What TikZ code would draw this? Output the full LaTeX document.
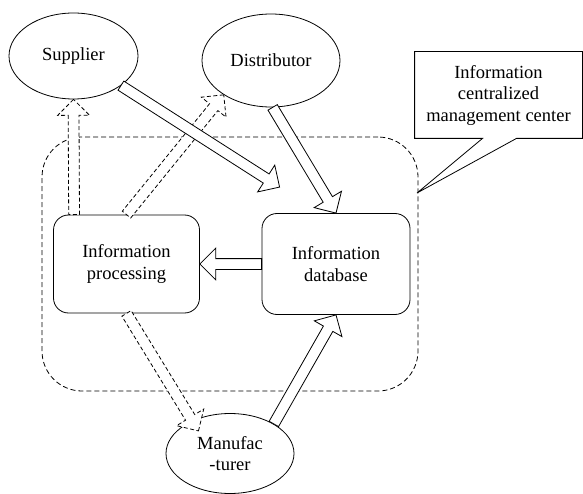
\documentclass[tikz,border=0pt]{standalone}
\usepackage{fontspec}
\setmainfont{Liberation Serif}
\usetikzlibrary{shapes.geometric,shapes.arrows,calc}

% hollow block arrow laid from one point to another
\newcommand{\flow}[3][]{\path let \p1=(#2), \p2=(#3), \n1={atan2(\y2-\y1,\x2-\x1)}, \n2={veclen(\x2-\x1,\y2-\y1)} in node[flow,#1,anchor=tail,rotate=\n1,minimum height=\n2] at (\p1) {};}

\begin{document}
\begin{tikzpicture}[x=1pt,y=-1pt,line width=0.8pt,font=\fontsize{18.5}{21.5}\selectfont,ent/.style={ellipse,draw,inner sep=0pt,align=center},unit/.style={rectangle,draw,rounded corners=15pt,align=center,minimum width=146pt},zone/.style={rectangle,draw,rounded corners=40pt,dash pattern=on 5pt off 3pt},flow/.style={single arrow,draw,fill=white,inner sep=5pt,outer sep=0pt,single arrow head extend=10.5pt,single arrow tip angle=90},ctrl/.style={dash pattern=on 4pt off 2.5pt}]
\useasboundingbox (0,0) rectangle (583,494);
% management center and its parties
\node[zone,minimum width=376pt,minimum height=254pt] (mgmt) at (230,264) {};
\node[ent,minimum width=129pt,minimum height=86pt] (supplier) at (73.5,56) {Supplier};
\node[ent,minimum width=138pt,minimum height=93pt] (distributor) at (271,60.5) {Distributor};
\node[ent,minimum width=128pt,minimum height=80pt] (manuf) at (230,453.5) {Manufac\\-turer};
\node[unit,minimum height=98pt] (proc) at (126.5,264) {Information\\processing};
\node[unit,minimum width=148pt,minimum height=101pt] (db) at (336,264) {Information\\database};
% callout
\node[minimum width=167pt,minimum height=86pt,align=center] (note) at (498.5,95) {Information\\centralized\\management center};
\coordinate (notetip) at (417,193);
\draw (note.south west) -- (note.north west) -- (note.north east) -- (note.south east) -- ([xshift=18pt]note.south) -- (notetip) -- ([xshift=-16pt]note.south) -- cycle;
% information flows
\flow[ctrl]{$(proc.north west)+(21,0)$}{supplier.south}
\flow[ctrl]{proc.north}{distributor.216}
\flow[ctrl]{proc.south}{$(manuf.north west)+(14,6)$}
\flow{supplier.-32}{$(db.north west)+(18,-26)$}
\flow{distributor.-88}{db.north}
\flow{db.west}{proc.east}
\flow{manuf.34}{db.south}
\end{tikzpicture}
\end{document}
